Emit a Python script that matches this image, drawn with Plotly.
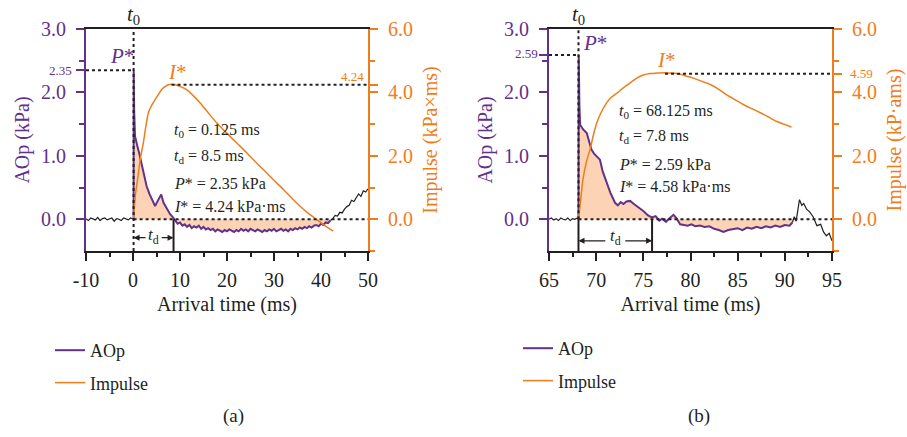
import numpy as np
import plotly.graph_objects as go

# ---------------- data: panel (a) ----------------
T0_A, TD_A, P_A, I_A = 0.125, 8.5, 2.35, 4.24

pre_a_t = [-10.0, -9.5, -9.0, -8.5, -8.0, -7.5, -7.0, -6.5, -6.0, -5.5, -5.0, -4.5,
           -4.0, -3.5, -3.0, -2.5, -2.0, -1.5, -1.0, -0.5, 0.0, 0.125]
pre_a_v = [0.01, -0.02, 0.02, 0.0, -0.01, 0.03, -0.02, 0.01, 0.02, -0.01, 0.0, 0.02,
           -0.03, 0.01, 0.0, -0.02, 0.02, 0.01, -0.01, 0.02, 0.0, 0.0]

aop_a_t = [0.125, 0.15, 0.25, 0.43, 0.7, 1.0, 1.3, 1.5, 1.9, 2.2, 2.6, 2.9, 3.5, 4.0,
           4.7, 5.4, 6.0, 6.5, 7.2, 7.9, 8.5,
           9.0, 9.5, 10.0, 10.5, 11.0, 11.5, 12.0, 12.5, 13.0, 13.5, 14.0, 14.5, 15.0,
           15.5, 16.0, 16.5, 17.0, 17.5, 18.0, 18.5, 19.0, 19.5, 20.0, 20.5, 21.0, 21.5,
           22.0, 22.5, 23.0, 23.5, 24.0, 24.5, 25.0, 25.5, 26.0, 26.5, 27.0, 27.5, 28.0,
           28.5, 29.0, 29.5, 30.0, 30.5, 31.0, 31.5, 32.0, 32.5, 33.0, 33.5, 34.0, 34.5,
           35.0, 35.5, 36.0, 36.5, 37.0, 37.5, 38.0, 38.5, 39.0, 39.5, 40.0, 40.5, 41.0,
           41.5, 42.0]
aop_a_v = [0.0, 2.35, 1.70, 1.31, 1.20, 1.13, 1.05, 0.98, 0.86, 0.78, 0.62, 0.52, 0.40, 0.31,
           0.21, 0.31, 0.39, 0.26, 0.16, 0.08, 0.03,
           -0.03, -0.07, -0.05, -0.10, -0.08, -0.12, -0.09, -0.14, -0.11, -0.13, -0.10, -0.15, -0.12,
           -0.16, -0.14, -0.17, -0.15, -0.19, -0.16, -0.18, -0.20, -0.17, -0.19, -0.16, -0.18, -0.20,
           -0.17, -0.19, -0.15, -0.18, -0.16, -0.19, -0.15, -0.17, -0.19, -0.16, -0.18, -0.20, -0.17,
           -0.19, -0.16, -0.18, -0.15, -0.19, -0.17, -0.15, -0.18, -0.16, -0.19, -0.15, -0.17, -0.14,
           -0.16, -0.13, -0.15, -0.12, -0.14, -0.11, -0.13, -0.10, -0.09, -0.11, -0.07, -0.09, -0.05,
           -0.06, -0.02]

post_a_t = [42.0, 42.5, 43.0, 43.5, 44.0, 44.5, 45.0, 45.5, 46.0, 46.5, 47.0, 47.5, 48.0,
            48.5, 49.0, 49.5, 50.0]
post_a_v = [-0.02, 0.01, 0.06, 0.05, 0.11, 0.10, 0.16, 0.20, 0.22, 0.30, 0.28, 0.35, 0.40,
            0.36, 0.45, 0.43, 0.48]

imp_a_t = [0.125, 0.5, 1.1, 1.6, 2.2, 2.7, 3.26, 4.0, 4.7, 5.4, 6.1, 6.8, 7.5, 8.2, 8.9,
           10.0, 11.4, 12.8, 14.3, 16.0, 17.8, 19.5, 21.3, 23.1, 24.9, 26.6, 28.4, 30.2,
           32.0, 33.7, 35.5, 37.2, 39.0, 40.8, 42.6]
imp_a_v = [0.0, 0.75, 1.40, 1.95, 2.41, 2.90, 3.35, 3.60, 3.77, 3.93, 4.09, 4.18, 4.24, 4.26, 4.24,
           4.19, 4.09, 3.90, 3.67, 3.36, 3.04, 2.78, 2.52, 2.26, 1.99, 1.73, 1.47, 1.20,
           0.94, 0.68, 0.42, 0.20, 0.0, -0.20, -0.37]

x_ticks_a = [-10, 0, 10, 20, 30, 40, 50]
x_ticktext_a = ["-10", "0", "10", "20", "30", "40", "50"]

# ---------------- data: panel (b) ----------------
T0_B, TD_B, P_B, I_B = 68.125, 7.8, 2.59, 4.58
I_B_TICK = 4.59

pre_b_t = [65.0, 65.25, 65.5, 65.75, 66.0, 66.25, 66.5, 66.75, 67.0, 67.25, 67.5, 67.75, 68.0, 68.125]
pre_b_v = [0.0, 0.02, -0.01, 0.01, -0.02, 0.02, 0.0, -0.01, 0.02, -0.02, 0.01, 0.0, 0.02, 0.0]

aop_b_t = [68.125, 68.15, 68.22, 68.3, 68.6, 69.0, 69.3, 69.5, 69.8, 70.1, 70.4, 70.7, 71.0,
           71.5, 72.0, 72.3, 72.6, 72.9, 73.2, 73.6, 74.0, 74.3, 74.7, 75.0, 75.5, 75.9,
           76.3, 76.7, 77.0, 77.4, 77.8, 78.2, 78.5, 78.9, 79.3, 79.7, 80.1, 80.5, 81.0,
           81.5, 82.0, 82.5, 83.0, 83.5, 84.0, 84.5, 85.0, 85.5, 86.0, 86.5, 87.0, 87.5,
           88.0, 88.5, 89.0, 89.5, 90.0, 90.5, 90.8]
aop_b_v = [0.0, 2.59, 1.80, 1.49, 1.42, 1.36, 1.22, 1.10, 1.03, 0.99, 0.94, 0.75, 0.62,
           0.42, 0.26, 0.22, 0.27, 0.24, 0.28, 0.29, 0.24, 0.21, 0.17, 0.13, 0.06, 0.03,
           0.05, -0.02, 0.01, -0.04, 0.02, 0.07, 0.02, -0.08, -0.09, -0.10, -0.08, -0.11, -0.10,
           -0.12, -0.11, -0.15, -0.17, -0.20, -0.17, -0.16, -0.14, -0.17, -0.13, -0.15, -0.12, -0.14,
           -0.11, -0.13, -0.10, -0.12, -0.09, -0.10, -0.05]

post_b_t = [90.8, 91.0, 91.2, 91.55, 91.8, 92.0, 92.3, 92.6, 93.0, 93.4, 93.8, 94.1, 94.4, 94.7, 95.0]
post_b_v = [-0.05, 0.04, -0.03, 0.31, 0.22, 0.25, 0.16, 0.12, 0.04, -0.10, -0.08, -0.20, -0.26, -0.22, -0.34]

imp_b_t = [68.125, 68.3, 68.6, 69.0, 69.35, 69.7, 70.07, 70.5, 71.1, 71.6, 72.2, 72.9, 73.6,
           74.3, 75.0, 75.7, 76.5, 77.3, 78.0, 78.5, 79.0, 79.5, 80.3, 81.2, 82.1, 83.0,
           83.8, 84.7, 85.6, 86.5, 87.4, 88.3, 89.1, 89.9, 90.7]
imp_b_v = [0.0, 0.45, 1.26, 1.85, 2.20, 2.65, 3.04, 3.35, 3.67, 3.85, 3.98, 4.15, 4.30,
           4.45, 4.55, 4.60, 4.61, 4.62, 4.61, 4.60, 4.57, 4.52, 4.45, 4.35, 4.25, 4.10,
           3.93, 3.77, 3.62, 3.49, 3.36, 3.22, 3.09, 3.00, 2.91]

x_ticks_b = [65, 70, 75, 80, 85, 90, 95]
x_ticktext_b = ["65", "70", "75", "80", "85", "90", "95"]

# ---------------- style ----------------
PURPLE = "#62318C"
ORANGE = "#F07D1B"
FILL = "rgba(251,205,168,0.85)"
INK = "#231F20"
FONT = "Liberation Serif"
W, H = 907, 437

fig = go.Figure()

def add_panel(xa, ya, yb, legend, pre_t, pre_v, aop_t, aop_v, post_t, post_v, imp_t, imp_v):
    fig.add_trace(go.Scatter(x=aop_t, y=aop_v, xaxis=xa, yaxis=ya, mode="lines",
                             line=dict(width=0), fill="tozeroy", fillcolor=FILL,
                             showlegend=False, hoverinfo="skip"))
    fig.add_trace(go.Scatter(x=pre_t, y=pre_v, xaxis=xa, yaxis=ya, mode="lines",
                             line=dict(color=INK, width=1.2), showlegend=False, hoverinfo="skip"))
    fig.add_trace(go.Scatter(x=post_t, y=post_v, xaxis=xa, yaxis=ya, mode="lines",
                             line=dict(color=INK, width=1.2), showlegend=False, hoverinfo="skip"))
    fig.add_trace(go.Scatter(x=aop_t, y=aop_v, xaxis=xa, yaxis=ya, mode="lines",
                             line=dict(color=PURPLE, width=2),
                             name="AOp", legend=legend, legendgroup=legend + "a"))
    fig.add_trace(go.Scatter(x=imp_t, y=imp_v, xaxis=xa, yaxis=yb, mode="lines",
                             line=dict(color=ORANGE, width=1.5, shape="spline", smoothing=0.6),
                             name="Impulse", legend=legend, legendgroup=legend + "b"))

add_panel("x", "y", "y2", "legend", pre_a_t, pre_a_v, aop_a_t, aop_a_v, post_a_t, post_a_v, imp_a_t, imp_a_v)
add_panel("x2", "y3", "y4", "legend2", pre_b_t, pre_b_v, aop_b_t, aop_b_v, post_b_t, post_b_v, imp_b_t, imp_b_v)

XD_A = [86 / W, 368 / W]
XD_B = [549 / W, 832 / W]
YD = [1 - 251 / H, 1 - 29 / H]
TICKSIZE = 20
TITLESIZE = 20

def xaxis(domain, rng, tickvals, ticktext, mdtick, anchor):
    return dict(domain=domain, range=rng, anchor=anchor, automargin=False, showline=True,
                linecolor=INK, linewidth=2, mirror=True, ticks="outside", ticklen=8, tickwidth=2,
                tickcolor=INK, tickmode="array", tickvals=tickvals, ticktext=ticktext,
                minor=dict(tickmode="linear", dtick=mdtick, tick0=0, ticks="outside", ticklen=4,
                           tickwidth=2, tickcolor=INK),
                ticklabelstandoff=2,
                showgrid=False, zeroline=False, tickfont=dict(size=TICKSIZE, color=INK, family=FONT),
                title=dict(text="Arrival time (ms)", font=dict(size=TITLESIZE, color=INK, family=FONT),
                           standoff=7))

def yleft(anchor, tickvals, ticktext):
    return dict(domain=YD, range=[-0.5, 3.0], anchor=anchor, automargin=False, showline=True,
                linecolor=PURPLE, linewidth=2, ticks="outside", ticklen=8, tickwidth=2, tickcolor=PURPLE,
                tickmode="array", tickvals=tickvals, ticktext=ticktext, ticklabelstandoff=6,
                minor=dict(tickmode="array", tickvals=[0.5, 1.5, 2.5], ticks="outside", ticklen=5,
                           tickwidth=2, tickcolor=PURPLE),
                showgrid=False, zeroline=False, tickfont=dict(size=TICKSIZE, color=PURPLE, family=FONT),
                title=dict(text="AOp (kPa)", font=dict(size=TITLESIZE, color=PURPLE, family=FONT),
                           standoff=6))

def yright(overlay, anchor, tickvals, ticktext, title):
    return dict(domain=YD, range=[-1.0, 6.0], anchor=anchor, overlaying=overlay, side="right",
                automargin=False, showline=True, linecolor=ORANGE, linewidth=2, ticks="outside",
                ticklen=8, tickwidth=2, tickcolor=ORANGE, tickmode="array", tickvals=tickvals,
                ticktext=ticktext, ticklabelstandoff=6,
                minor=dict(tickmode="array", tickvals=[-1.0, 1.0, 3.0, 5.0], ticks="outside", ticklen=5,
                           tickwidth=2, tickcolor=ORANGE),
                showgrid=False, zeroline=False, tickfont=dict(size=TICKSIZE, color=ORANGE, family=FONT),
                title=dict(text=title, font=dict(size=TITLESIZE, color=ORANGE, family=FONT), standoff=11))

fig.update_layout(
    width=W, height=H, margin=dict(l=0, r=0, t=0, b=0, autoexpand=False),
    paper_bgcolor="white", plot_bgcolor="white",
    font=dict(family=FONT, color=INK),
    xaxis=xaxis(XD_A, [-10, 50], x_ticks_a, x_ticktext_a, 5, "y"),
    yaxis=yleft("x", [0, 1, 2, P_A, 3], ["0.0", "1.0", "2.0", "", "3.0"]),
    yaxis2=yright("y", "x", [0, 2, 4, I_A, 6], ["0.0", "2.0", "4.0", "", "6.0"], "Impulse (kPa×ms)"),
    xaxis2=xaxis(XD_B, [65, 95], x_ticks_b, x_ticktext_b, 2.5, "y3"),
    yaxis3=yleft("x2", [0, 1, 2, P_B, 3], ["0.0", "1.0", "2.0", "", "3.0"]),
    yaxis4=yright("y3", "x2", [0, 2, 4, I_B_TICK, 6], ["0.0", "2.0", "4.0", "", "6.0"], "Impulse (kP·ams)"),
    legend=dict(x=50 / W, y=1 - 332 / H, xanchor="left", yanchor="top", bgcolor="rgba(0,0,0,0)",
                font=dict(size=18, family=FONT, color=INK), tracegroupgap=6),
    legend2=dict(x=518 / W, y=1 - 330 / H, xanchor="left", yanchor="top", bgcolor="rgba(0,0,0,0)",
                 font=dict(size=18, family=FONT, color=INK), tracegroupgap=6),
    showlegend=True,
)

DOT = dict(color=INK, width=2, dash="dot")
SOLID = dict(color=INK, width=2)

def panel_shapes(xr, yr, yr2, t0, td, p, itick, x0, x1, imp_t, imp_v, t0_solid_below):
    tpk = imp_t[int(np.argmax(imp_v))]
    s = [
        dict(type="line", xref=xr, yref=yr, x0=t0, x1=t0, y0=0 if t0_solid_below else -0.5, y1=3.0, line=DOT),
        dict(type="line", xref=xr, yref=yr, x0=x0, x1=t0, y0=p, y1=p, line=DOT),
        dict(type="line", xref=xr, yref=yr, x0=t0, x1=x1, y0=0, y1=0, line=DOT),
        dict(type="line", xref=xr, yref=yr, x0=t0 + td, x1=t0 + td, y0=-0.5, y1=0, line=SOLID),
        dict(type="line", xref=xr, yref=yr2, x0=tpk, x1=x1, y0=itick, y1=itick, line=DOT),
    ]
    if t0_solid_below:
        s.append(dict(type="line", xref=xr, yref=yr, x0=t0, x1=t0, y0=-0.5, y1=0, line=SOLID))
    return s

shapes = panel_shapes("x", "y", "y2", T0_A, TD_A, P_A, I_A, -10, 50, imp_a_t, imp_a_v, False)
shapes += panel_shapes("x2", "y3", "y4", T0_B, TD_B, P_B, I_B_TICK, 65, 95, imp_b_t, imp_b_v, True)
fig.update_layout(shapes=shapes)

ann = []

def text(x, y, s, xr, yr, size=16, color=INK, xanchor="left", yanchor="middle"):
    ann.append(dict(x=x, y=y, xref=xr, yref=yr, text=s, showarrow=False, xanchor=xanchor,
                    yanchor=yanchor, font=dict(size=size, color=color, family=FONT)))

def td_arrow(xr, yr, t0, td, y, ylab, gap):
    mid = t0 + td / 2
    for tip, tail in ((t0, mid - gap), (t0 + td, mid + gap)):
        ann.append(dict(x=tip, y=y, ax=tail, ay=y, xref=xr, yref=yr, axref=xr, ayref=yr, text="",
                        showarrow=True, arrowhead=2, arrowsize=1, arrowwidth=1.2, arrowcolor=INK,
                        standoff=0, startstandoff=0))
    text(mid, ylab, "<i>t</i><sub>d</sub>", xr, yr, size=17, xanchor="center")

# panel (a)
text(T0_A, 1 - 15 / H, "<i>t</i><sub>0</sub>", "x", "paper", size=21, xanchor="center")
text(-2.3, 2.57, "<i>P</i>*", "x", "y", size=21, color=PURPLE, xanchor="center")
text(9.4, 4.65, "<i>I</i>*", "x", "y2", size=21, color=ORANGE, xanchor="center")
text(60 / W, P_A, "2.35", "paper", "y", size=13, color=PURPLE, xanchor="center")
text(46.6, 4.5, "4.24", "x", "y2", size=13, color=ORANGE, xanchor="center")
text(8.2, 1.40, "<i>t</i><sub>0</sub> = 0.125 ms", "x", "y")
text(8.2, 0.99, "<i>t</i><sub>d</sub> = 8.5 ms", "x", "y")
text(8.2, 0.57, "<i>P</i>* = 2.35 kPa", "x", "y")
text(8.2, 0.20, "<i>I</i>* = 4.24 kPa·ms", "x", "y")
td_arrow("x", "y", T0_A, TD_A, -0.29, -0.26, 1.4)

# panel (b)
text(T0_B, 1 - 15 / H, "<i>t</i><sub>0</sub>", "x2", "paper", size=21, xanchor="center")
text(69.9, 2.78, "<i>P</i>*", "x2", "y3", size=21, color=PURPLE, xanchor="center")
text(77.5, 5.03, "<i>I</i>*", "x2", "y4", size=21, color=ORANGE, xanchor="center")
text(526 / W, P_B + 0.02, "2.59", "paper", "y3", size=13, color=PURPLE, xanchor="center")
text(861 / W, I_B_TICK, "4.59", "paper", "y4", size=13, color=ORANGE, xanchor="center")
text(72.2, 1.70, "<i>t</i><sub>0</sub> = 68.125 ms", "x2", "y3")
text(72.2, 1.31, "<i>t</i><sub>d</sub> = 7.8 ms", "x2", "y3")
text(72.2, 0.86, "<i>P</i>* = 2.59 kPa", "x2", "y3")
text(72.2, 0.52, "<i>I</i>* = 4.58 kPa·ms", "x2", "y3")
td_arrow("x2", "y3", T0_B, TD_B, -0.34, -0.28, 0.9)

# captions
text(233 / W, 1 - 416 / H, "(a)", "paper", "paper", size=19, xanchor="center")
text(699 / W, 1 - 416 / H, "(b)", "paper", "paper", size=19, xanchor="center")

fig.update_layout(annotations=ann)
fig.write_html("out.html")
